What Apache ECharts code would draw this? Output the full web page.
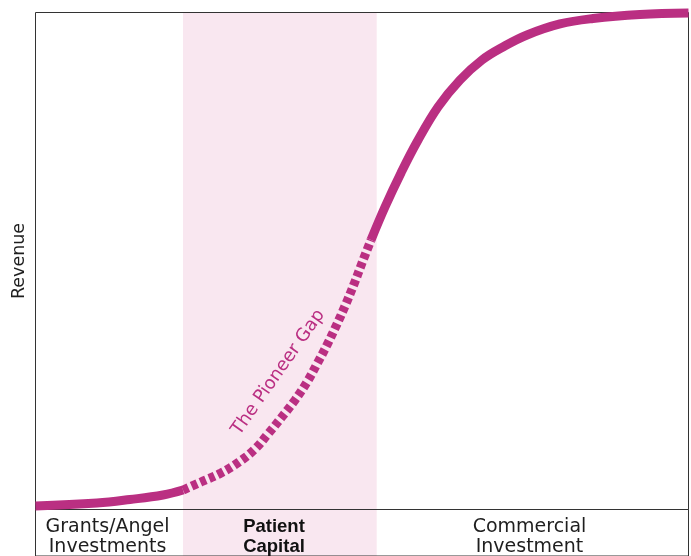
<!DOCTYPE html>
<html>
<head>
<meta charset="utf-8">
<script src="https://cdn.jsdelivr.net/npm/echarts@6/dist/echarts.min.js"></script>
<style>
html,body{margin:0;padding:0;background:#fff;}
#chart{width:691px;height:556px;}
</style>
</head>
<body>
<div id="chart"></div>
<script>
// Data (x: 0-100 stage progress, y: 0-100 revenue)
const earlyCurve = [[0,0.70],[9.42,1.31],[14.47,2.01],[19.53,2.92],[22.59,3.92]];
const gapCurve = [[22.59,3.92],[25.34,5.53],[28.41,7.34],[31.16,9.56],[33.61,12.17],[35.60,15.19],[37.60,18.41],[39.74,22.03],[41.58,25.65],[43.11,29.28],[44.64,33.10],[46.17,37.32],[47.40,40.95],[48.78,45.37],[50.00,49.60],[51.38,54.23]];
const lateCurve = [[51.38,54.23],[53.52,60.87],[55.97,67.71],[58.42,73.94],[61.64,80.99],[65.01,86.42],[68.38,90.44],[71.59,93.06],[75.27,95.47],[80.32,97.69],[85.38,98.79],[92.57,99.60],[100,99.90]];
const bandRange = [22.59, 52.25];
const stageNames = ['Grants/Angel\nInvestments', 'Patient\nCapital', 'Commercial\nInvestment'];
const stageX = [11.03, 36.52, 75.65];
const stageBold = [false, true, false];
const gapLabel = 'The Pioneer Gap';
const gapLabelPos = [37.2, 27.6];
const yAxisTitle = 'Revenue';

const curveColor = '#BA2F82';
const bandColor = '#F9E7F0';
const textColor = '#1e1e1e';
const frameColor = '#333';
const stageLabelOffset = 41; // px below the axis line (label strip is in pixel units)

const chart = echarts.init(document.getElementById('chart'), null, {renderer: 'canvas'});

const stageData = stageX.map((x, i) => ({
  value: [x, stageLabelOffset],
  label: {
    formatter: stageNames[i].split('\n').map(s => '{' + (stageBold[i] ? 'b' : 'n') + '|' + s + '}').join('\n')
  }
}));

const option = {
  animation: false,
  backgroundColor: '#fff',
  grid: [
    {left: 35.5, right: 2.5, top: 12.5, height: 497, show: true, borderColor: frameColor, borderWidth: 1, z: 3},
    {left: 35.5, right: 2.5, top: 509.5, height: 70, show: true, borderColor: frameColor, borderWidth: 1, z: 3}
  ],
  xAxis: [
    {gridIndex: 0, type: 'value', min: 0, max: 100, show: false},
    {gridIndex: 1, type: 'value', min: 0, max: 100, show: false}
  ],
  yAxis: [
    {
      gridIndex: 0, type: 'value', min: 0, max: 100,
      name: yAxisTitle, nameLocation: 'middle', nameGap: 7,
      nameTextStyle: {fontFamily: 'DejaVu Sans', fontSize: 17.5, color: textColor},
      axisLine: {show: false}, axisTick: {show: false}, axisLabel: {show: false}, splitLine: {show: false}
    },
    {gridIndex: 1, type: 'value', min: 0, max: 70, inverse: true, show: false}
  ],
  series: [
    {
      type: 'line', xAxisIndex: 0, yAxisIndex: 0, z: 2, data: [], symbol: 'none',
      markArea: {silent: true, itemStyle: {color: bandColor}, data: [[{xAxis: bandRange[0]}, {xAxis: bandRange[1]}]]}
    },
    {
      type: 'line', xAxisIndex: 1, yAxisIndex: 1, z: 2, data: [], symbol: 'none',
      markArea: {silent: true, itemStyle: {color: bandColor}, data: [[{xAxis: bandRange[0]}, {xAxis: bandRange[1]}]]}
    },
    {
      type: 'scatter', xAxisIndex: 1, yAxisIndex: 1, z: 5, symbolSize: 0, silent: true,
      itemStyle: {opacity: 1},
      data: stageData,
      label: {
        show: true, position: 'inside', opacity: 1,
        rich: {
          n: {fontFamily: 'DejaVu Sans', fontSize: 19, lineHeight: 20, color: textColor, align: 'center'},
          b: {fontFamily: 'Liberation Sans', fontWeight: 'bold', fontSize: 18.5, lineHeight: 20, color: '#111', align: 'center'}
        }
      }
    },
    {
      type: 'line', z: 4, data: earlyCurve, smooth: 0.4, symbol: 'none', clip: false,
      lineStyle: {color: curveColor, width: 9, cap: 'butt'}
    },
    {
      type: 'line', z: 4, data: gapCurve, smooth: 0.4, symbol: 'none', clip: false,
      lineStyle: {color: curveColor, width: 9, type: [6, 3.5], cap: 'butt'},
      markPoint: {
        symbol: 'circle', symbolSize: 0, silent: true,
        data: [{coord: gapLabelPos, value: gapLabel}],
        label: {
          show: true, position: 'inside', rotate: 55, formatter: gapLabel,
          fontFamily: 'DejaVu Sans', fontSize: 18, color: curveColor
        }
      }
    },
    {
      type: 'line', z: 4, data: lateCurve, smooth: 0.4, symbol: 'none', clip: false,
      lineStyle: {color: curveColor, width: 9, cap: 'butt'}
    }
  ]
};
chart.setOption(option);
</script>
</body>
</html>
